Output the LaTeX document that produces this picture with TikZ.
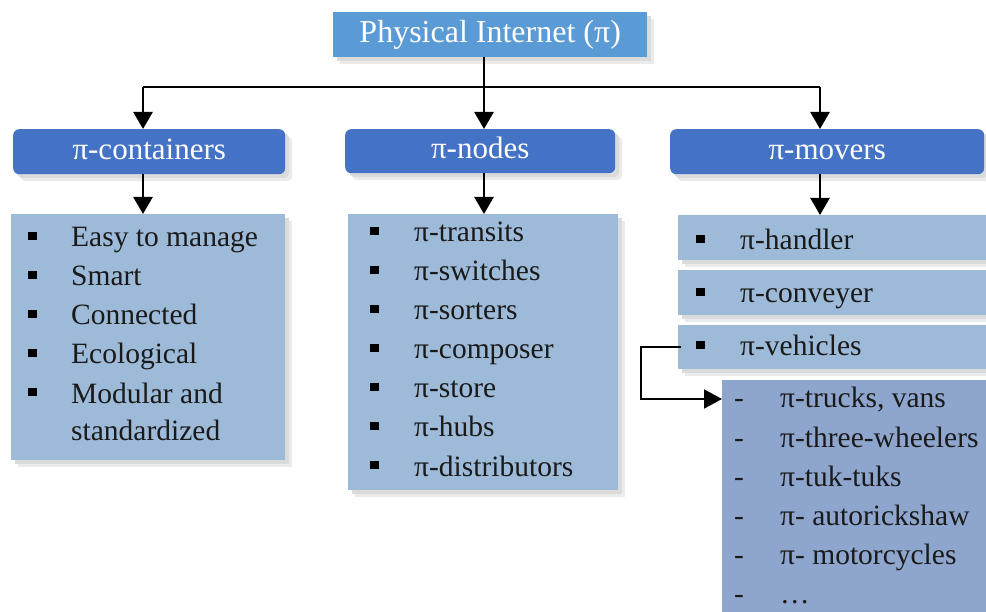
\documentclass[tikz,border=0pt]{standalone}
\usepackage{fontspec}
\setmainfont{Liberation Serif}
\newfontfamily\garf{Liberation Serif}
\usetikzlibrary{arrows.meta,shadows}
\definecolor{topblue}{HTML}{5B9BD5}
\definecolor{midblue}{HTML}{4472C4}
\definecolor{listblue}{HTML}{9DBBD9}
\definecolor{subblue}{HTML}{8EA6CE}
\definecolor{txt}{HTML}{1A1A1A}
\tikzset{
  shad/.style={drop shadow={shadow xshift=7pt,shadow yshift=-7pt,fill=black!8,opacity=1},
               drop shadow={shadow xshift=4pt,shadow yshift=-4pt,fill=black!14,opacity=1}},
  topbox/.style={fill=topblue,text=white,inner sep=0pt,anchor=north west,shad,
                 text height=22pt,text depth=7pt,
                 font=\garf\fontsize{32}{36}\selectfont},
  headbox/.style={fill=midblue,text=white,inner sep=0pt,anchor=north west,rounded corners=6pt,shad,
                 text height=21pt,text depth=6pt,
                 font=\garf\fontsize{31}{36}\selectfont},
  listbox/.style={fill=listblue,inner sep=0pt,anchor=north west,shad},
  subbox/.style={fill=subblue,inner sep=0pt,anchor=north west,shad},
  itemtxt/.style={anchor=base west,inner sep=0pt,text=txt,font=\garf\fontsize{29.5}{36}\selectfont},
  conn/.style={line width=2.5pt},
  arr/.style={line width=2.5pt,-{Triangle[width=19pt,length=17pt]}},
  arrthin/.style={line width=2pt,-{Triangle[width=19pt,length=18pt]}}
}
\begin{document}
\begin{tikzpicture}[x=1pt,y=-1pt]
\clip (0,0) rectangle (986,612);
\fill[white] (0,0) rectangle (986,612);

% top
\node[topbox,minimum width=314pt,minimum height=45pt] (top) at (333,12) {Physical Internet (π)};

% headings
\node[headbox,minimum width=272pt,minimum height=45pt] (hc) at (13,129) {π-containers};
\node[headbox,minimum width=270pt,minimum height=44pt] (hn) at (345,129) {π-nodes};
\node[headbox,minimum width=314pt,minimum height=45pt] (hm) at (670,129) {π-movers};

% list boxes
\node[listbox,minimum width=274pt,minimum height=246pt] (lc) at (11,214) {};
\node[listbox,minimum width=270pt,minimum height=276pt] (lnd) at (348,214) {};
\node[listbox,minimum width=320pt,minimum height=45pt] (mh) at (678,215) {};
\node[listbox,minimum width=320pt,minimum height=45pt] (mc) at (678,270) {};
\node[listbox,minimum width=320pt,minimum height=44pt] (mv) at (678,325) {};
\node[subbox,minimum width=280pt,minimum height=250pt] (sub) at (722,380) {};

% connectors
\coordinate (bus) at (484,87);
\coordinate (bc) at (143,87);
\coordinate (bm) at (820,87);
\draw[conn] (top.south -| bus) -- (bus);
\draw[conn] (bc) -- (bm);
\draw[arr] (bus) -- (bus |- hn.north);
\draw[arr] (bc) -- (bc |- hc.north);
\draw[arr] (bm) -- (bm |- hm.north);
\draw[arr] (bc |- hc.south) -- (bc |- lc.north);
\draw[arr] (bus |- hn.south) -- (bus |- lnd.north);
\draw[arr] (bm |- hm.south) -- (bm |- mh.north);
\draw[arrthin] ([xshift=3pt]mv.west) -- ++(-40,0) |- ([yshift=-19pt]sub.north west);

% containers list
\foreach \b/\t [count=\i] in {247/Easy to manage,286/Smart,325/Connected,364/Ecological,403/Modular and}{
  \fill[black] (28,\b-15) rectangle ++(9,8);
  \node[itemtxt] (c\i) at (71,\b) {\t};
}
\node[itemtxt] (c6) at (71,441) {standardized};

% nodes list
\foreach \b/\t [count=\i] in {242/π-transits,281/π-switches,320/π-sorters,359/π-composer,398/π-store,437/π-hubs,476/π-distributors}{
  \fill[black] (370,\b-15) rectangle ++(9,8);
  \node[itemtxt] (n\i) at (414,\b) {\t};
}

% movers
\foreach \b/\t [count=\i] in {250/π-handler,303/π-conveyer,356/π-vehicles}{
  \fill[black] (696,\b-15) rectangle ++(9,8);
  \node[itemtxt] (m\i) at (740,\b) {\t};
}

% vehicles sub-list
\foreach \b/\t [count=\i] in {408/{π-trucks, vans},447/π-three-wheelers,486/π-tuk-tuks,525/π- autorickshaw,564/π- motorcycles,603/…}{
  \node[itemtxt] (d\i) at (734,\b) {-};
  \node[itemtxt] (v\i) at (780,\b) {\t};
}
\end{tikzpicture}
\end{document}
